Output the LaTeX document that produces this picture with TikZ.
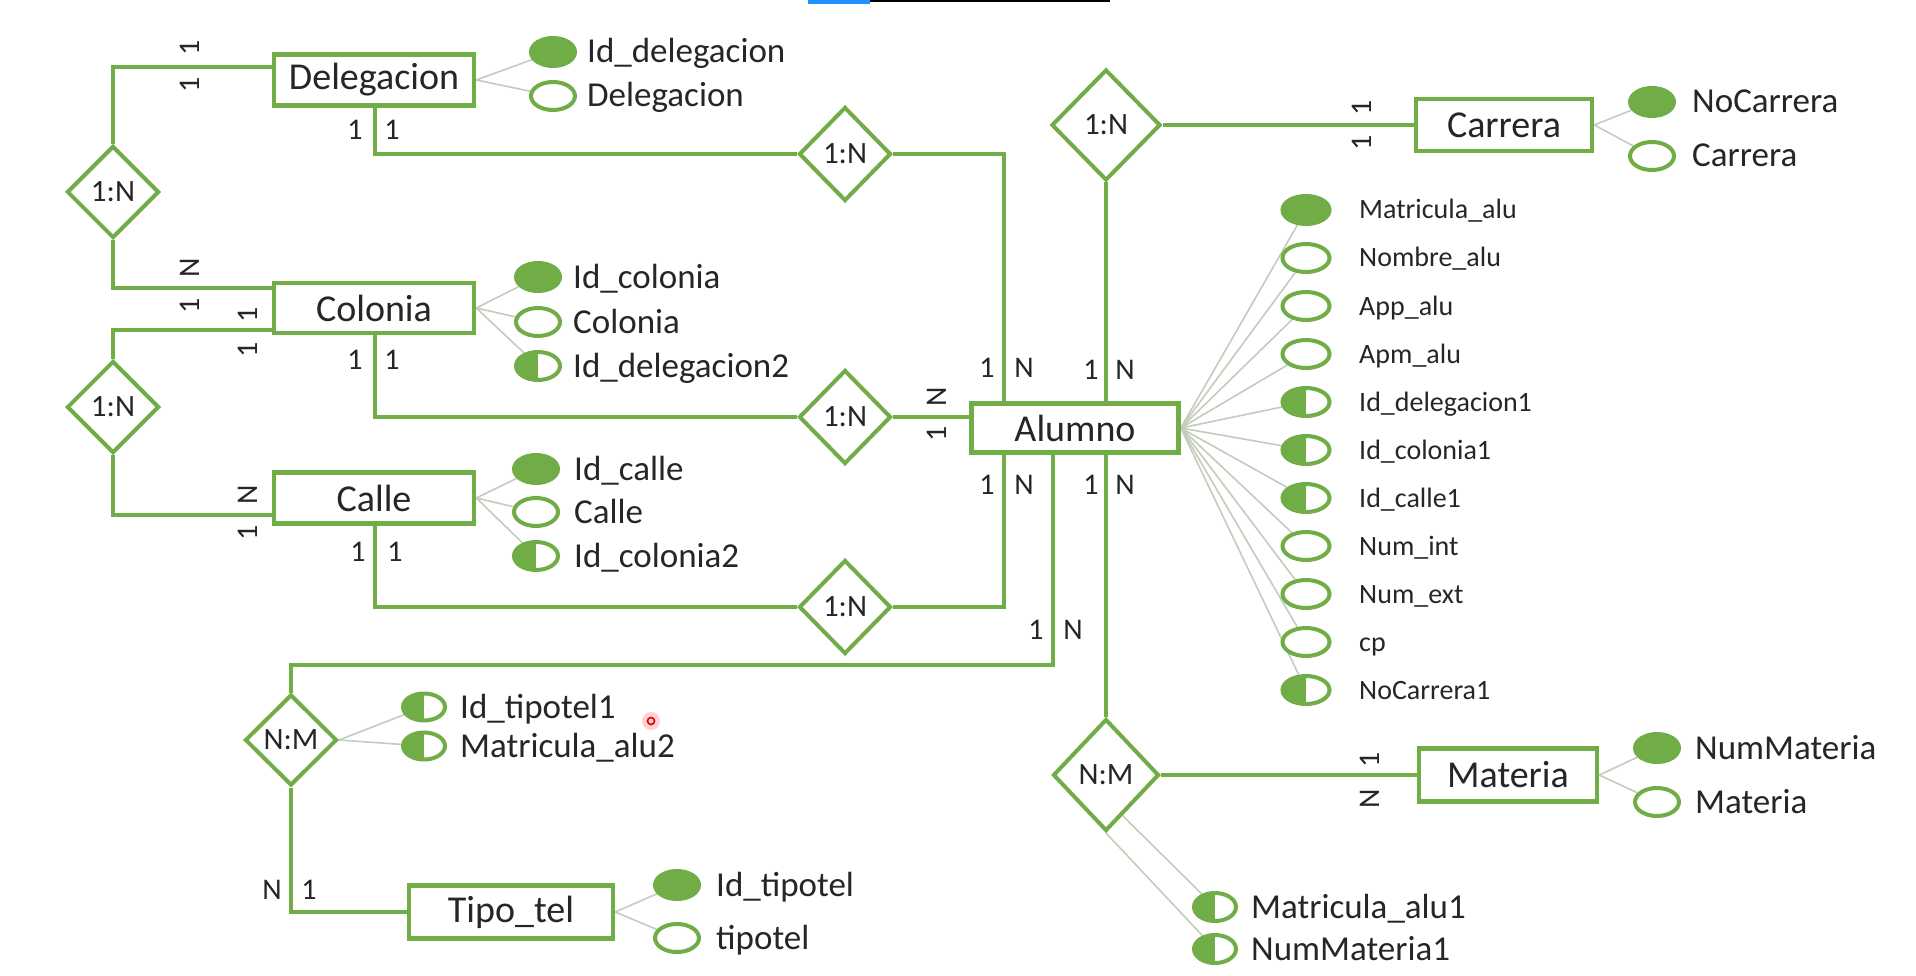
\documentclass[tikz,border=0pt]{standalone}
\usepackage{fontspec}
\setmainfont{Carlito}
\usetikzlibrary{shapes.geometric,calc}
\definecolor{eg}{RGB}{112,173,71}
\definecolor{lg}{RGB}{196,204,188}
\definecolor{tx}{RGB}{38,38,38}
\definecolor{barblue}{RGB}{30,144,255}
\pgfdeclarelayer{bg}
\pgfdeclarelayer{back}
\pgfsetlayers{back,bg,main}
\begin{document}
\begin{tikzpicture}[x=1pt,y=-1pt,
  ent/.style={draw=eg,line width=4.5pt,fill=white,minimum width=200pt,minimum height=51pt,inner sep=0pt,font=\fontsize{38}{40}\selectfont,text=tx},
  rel/.style={draw=eg,line width=4pt,fill=white,diamond,inner sep=0pt,minimum width=92pt,minimum height=92pt,font=\fontsize{31}{33}\selectfont,text=tx},
  conn/.style={draw=eg,line width=4pt},
  thinl/.style={draw=lg,line width=1.6pt},
  key/.style={ellipse,draw=eg,fill=eg,line width=4pt,minimum width=44pt,minimum height=28pt,inner sep=0pt},
  plain/.style={ellipse,draw=eg,fill=white,line width=4pt,minimum width=44pt,minimum height=28pt,inner sep=0pt},
  fkey/.style={plain,path picture={\fill[eg] (path picture bounding box.south west) rectangle (path picture bounding box.north);}},
  atxt/.style={anchor=base west,inner sep=0pt,text=tx,font=\fontsize{35}{37}\selectfont,yshift=-11pt},
  stxt/.style={anchor=base west,inner sep=0pt,text=tx,font=\fontsize{28}{30}\selectfont,yshift=-9pt},
  card/.style={inner sep=0pt,text=tx,font=\fontsize{30}{32}\selectfont},
  rcard/.style={card,rotate=90},
]
\begin{pgfonlayer}{back}
\fill[white] (0,0) rectangle (1916,976);
\end{pgfonlayer}
\useasboundingbox (0,0) rectangle (1916,976);
% screen artefacts
\fill[barblue] (808,0) rectangle (870,4);
\fill[black] (870,0) rectangle (1110,2);

% entities
\node[ent] (deleg) at (374,80) {Delegacion};
\node[ent,minimum height=50pt] (colonia) at (374,308) {Colonia};
\node[ent] (calle) at (374,498) {Calle};
\node[ent,minimum width=207pt,minimum height=49pt] (alumno) at (1075,428) {Alumno};
\node[ent,minimum width=176pt,minimum height=52pt] (carrera) at (1504,125) {Carrera};
\node[ent,minimum width=178pt,minimum height=53pt] (materia) at (1508,775) {Materia};
\node[ent,minimum width=204pt,minimum height=53pt] (tipotel) at (511,912) {Tipo\_tel};

% relationships
\node[rel] (r1) at (113,192) {1:N};
\node[rel] (r2) at (113,407) {1:N};
\node[rel,minimum height=94pt] (r3) at (845,154) {1:N};
\node[rel,minimum height=94pt] (r4) at (845,417) {1:N};
\node[rel,minimum height=94pt] (r5) at (845,607) {1:N};
\node[rel,minimum width=109pt,minimum height=111pt] (r6) at (1106,125) {1:N};
\node[rel,minimum width=106pt,minimum height=112pt] (r7) at (1106,775) {N:M};
\node[rel,minimum height=91pt] (r8) at (291,740) {N:M};

% connectors
\begin{pgfonlayer}{bg}
\draw[conn] (deleg.west |- 0,67) -| (r1.north);
\draw[conn] (r1.south) |- (colonia.west |- 0,288);
\draw[conn] (colonia.west |- 0,330) -| (r2.north);
\draw[conn] (r2.south) |- (calle.west |- 0,515);
\draw[conn] (deleg.south -| 375,0) |- (r3.west);
\draw[conn] (r3.east) -| (alumno.north -| 1004,0);
\draw[conn] (colonia.south -| 375,0) |- (r4.west);
\draw[conn] (r4.east) -- (r4.east -| alumno.west);
\draw[conn] (calle.south -| 375,0) |- (r5.west);
\draw[conn] (r5.east) -| (alumno.south -| 1004,0);
\draw[conn] (alumno.south -| 1053,0) |- (r8.north |- 0,665) -- (r8.north);
\draw[conn] (r8.south) |- (tipotel.west);
\draw[conn] (r6.south) -- (r6.south |- alumno.north);
\draw[conn] (r6.east) -- (r6.east -| carrera.west);
\draw[conn] (r7.north) -- (r7.north |- alumno.south);
\draw[conn] (r7.east) -- (r7.east -| materia.west);
\end{pgfonlayer}

% Delegacion attributes
\node[key] (e1) at (553,52) {};
\node[plain] (e2) at (553,96) {};
\node[atxt] (t1) at (587,52) {Id\_delegacion};
\node[atxt] (t2) at (587,96) {Delegacion};
% Colonia attributes
\node[key] (e3) at (538,277) {};
\node[plain] (e4) at (538,322) {};
\node[fkey] (e5) at (538,366) {};
\node[atxt] (t3) at (573,277) {Id\_colonia};
\node[atxt] (t4) at (573,322) {Colonia};
\node[atxt] (t5) at (573,366) {Id\_delegacion2};
% Calle attributes
\node[key] (e6) at (536,469) {};
\node[plain] (e7) at (536,512) {};
\node[fkey] (e8) at (536,556) {};
\node[atxt] (t6) at (574,469) {Id\_calle};
\node[atxt] (t7) at (574,512) {Calle};
\node[atxt] (t8) at (574,556) {Id\_colonia2};
% Carrera attributes
\node[key] (e9) at (1652,102) {};
\node[plain] (e10) at (1652,156) {};
\node[atxt] (t9) at (1692,102) {NoCarrera};
\node[atxt] (t10) at (1692,156) {Carrera};
% Materia attributes
\node[key] (e11) at (1657,748) {};
\node[plain] (e12) at (1657,802) {};
\node[atxt] (t11) at (1695,748) {NumMateria};
\node[atxt] (t12) at (1695,802) {Materia};
% Tipo_tel attributes
\node[key] (e13) at (677,885) {};
\node[plain] (e14) at (677,938) {};
\node[atxt] (t13) at (716,885) {Id\_tipotel};
\node[atxt] (t14) at (716,938) {tipotel};
% N:M telefono attributes
\node[fkey,minimum width=42pt,minimum height=27pt] (e15) at (424,707) {};
\node[fkey,minimum width=42pt,minimum height=27pt] (e16) at (424,746) {};
\node[atxt] (t15) at (460,707) {Id\_tipotel1};
\node[atxt] (t16) at (460,746) {Matricula\_alu2};
% N:M materia attributes
\node[fkey,minimum width=42pt,minimum height=28pt] (e17) at (1215,907) {};
\node[fkey,minimum width=42pt,minimum height=28pt] (e18) at (1215,949) {};
\node[atxt] (t17) at (1251,907) {Matricula\_alu1};
\node[atxt] (t18) at (1251,949) {NumMateria1};

% Alumno attributes
\foreach \s/\t [count=\i from 0] in {key/Matricula\_alu, plain/Nombre\_alu, plain/App\_alu, plain/Apm\_alu, fkey/Id\_delegacion1, fkey/Id\_colonia1, fkey/Id\_calle1, plain/Num\_int, plain/Num\_ext, plain/cp, fkey/NoCarrera1}{
  \node[\s,minimum width=47pt] (a\i) at (1306,{210+48*\i}) {};
  \node[stxt] (at\i) at (1359,{210+48*\i}) {\t};
  \begin{pgfonlayer}{bg}
  \draw[thinl] (alumno.east) -- (a\i);
  \end{pgfonlayer}
}

% attribute links
\begin{pgfonlayer}{bg}
\draw[thinl] (deleg.east) -- (e1);
\draw[thinl] (deleg.east) -- (e2);
\draw[thinl] (colonia.east) -- (e3);
\draw[thinl] (colonia.east) -- (e4);
\draw[thinl] (colonia.east) -- (e5);
\draw[thinl] (calle.east) -- (e6);
\draw[thinl] (calle.east) -- (e7);
\draw[thinl] (calle.east) -- (e8);
\draw[thinl] (carrera.east) -- (e9);
\draw[thinl] (carrera.east) -- (e10);
\draw[thinl] (materia.east) -- (e11);
\draw[thinl] (materia.east) -- (e12);
\draw[thinl] (tipotel.east) -- (e13);
\draw[thinl] (tipotel.east) -- (e14);
\draw[thinl] (r8.east) -- (e15);
\draw[thinl] (r8.east) -- (e16);
\draw[thinl] ($(r7.south)!0.3!(r7.east)$) -- (e17);
\draw[thinl] (r7.south) -- (e18);
\end{pgfonlayer}

% cardinalities (rotated)
\node[rcard] (c1) at (190,48) {1};
\node[rcard] (c2) at (190,85) {1};
\node[rcard] (c3) at (190,268) {N};
\node[rcard] (c4) at (190,306) {1};
\node[rcard] (c5) at (248,315) {1};
\node[rcard] (c6) at (248,350) {1};
\node[rcard] (c7) at (248,495) {N};
\node[rcard] (c8) at (248,533) {1};
\node[rcard] (c9) at (937,397) {N};
\node[rcard] (c10) at (937,434) {1};
\node[rcard] (c11) at (1362,108) {1};
\node[rcard] (c12) at (1362,143) {1};
\node[rcard] (c13) at (1370,760) {1};
\node[rcard] (c14) at (1370,799) {N};
% cardinalities (upright)
\node[card] (d1) at (355,130) {1};
\node[card] (d2) at (392,130) {1};
\node[card] (d3) at (355,360) {1};
\node[card] (d4) at (392,360) {1};
\node[card] (d5) at (358,552) {1};
\node[card] (d6) at (395,552) {1};
\node[card] (d7) at (987,368) {1};
\node[card] (d8) at (1024,368) {N};
\node[card] (d9) at (1091,370) {1};
\node[card] (d10) at (1125,370) {N};
\node[card] (d11) at (987,485) {1};
\node[card] (d12) at (1024,485) {N};
\node[card] (d13) at (1091,485) {1};
\node[card] (d14) at (1125,485) {N};
\node[card] (d15) at (1036,630) {1};
\node[card] (d16) at (1073,630) {N};
\node[card] (d17) at (272,890) {N};
\node[card] (d18) at (309,890) {1};

% cursor marker
\fill[red!18] (651,721) circle (9);
\draw[red!85!black,line width=1.6pt] (651,721) circle (3.5);
\end{tikzpicture}
\end{document}
